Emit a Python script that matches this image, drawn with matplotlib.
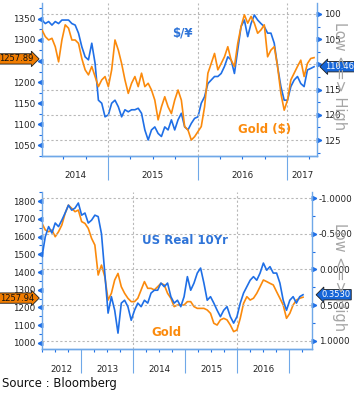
import numpy as np
import pandas as pd
import matplotlib
matplotlib.use('Agg')
import matplotlib.pyplot as plt
import matplotlib.dates as mdates
from matplotlib.ticker import FixedLocator, MultipleLocator

# ---- top panel: Gold ($) vs USDJPY (inverted), Apr 2014 - Apr 2017 ----
top_dates = pd.date_range('2014-04-06', '2017-04-20', periods=83)
gold_top = [1324, 1308, 1300, 1304, 1284, 1248, 1300, 1336, 1328, 1300,
            1300, 1292, 1256, 1229, 1217, 1237, 1213, 1189, 1205, 1213,
            1189, 1229, 1300, 1276, 1244, 1205, 1173, 1197, 1213, 1189,
            1221, 1189, 1197, 1181, 1157, 1110, 1141, 1165, 1141, 1125,
            1157, 1181, 1157, 1094, 1086, 1062, 1070, 1082, 1094, 1141,
            1221, 1244, 1268, 1229, 1244, 1260, 1284, 1252, 1237, 1292,
            1332, 1360, 1340, 1356, 1340, 1316, 1324, 1336, 1260, 1276,
            1284, 1237, 1173, 1133, 1157, 1205, 1221, 1237, 1252, 1213,
            1244, 1256, 1258]
usdjpy = [101.2, 101.9, 101.5, 102.2, 101.5, 101.9, 101.2, 101.2, 101.2, 101.9,
          102.2, 103.8, 106.5, 108.5, 109.1, 105.8, 109.8, 117.1, 117.7, 120.4,
          120.0, 117.7, 117.1, 118.4, 120.4, 119.0, 119.4, 119.0, 119.0, 118.7,
          119.7, 123.0, 125.0, 123.0, 122.4, 123.7, 124.3, 122.4, 123.0, 121.0,
          123.0, 121.0, 119.7, 122.4, 123.0, 121.7, 120.7, 120.4, 117.7, 116.4,
          113.8, 113.1, 112.4, 112.4, 111.8, 110.4, 108.5, 109.1, 111.8, 107.1,
          102.5, 101.2, 104.5, 101.9, 100.2, 101.2, 101.9, 102.5, 103.8, 103.8,
          105.8, 110.4, 114.4, 117.1, 117.1, 114.4, 113.1, 112.4, 113.8, 114.4,
          111.1, 110.8, 110.46]

# ---- bottom panel: Gold vs US Real 10Yr (inverted), Apr 2012 - Apr 2017 ----
bot_dates = pd.date_range('2012-04-01', '2017-04-08', periods=80)
gold_bot = [1674, 1637, 1627, 1637, 1599, 1627, 1665, 1731, 1777, 1759,
            1740, 1749, 1684, 1674, 1646, 1590, 1552, 1383, 1439, 1374,
            1242, 1280, 1355, 1392, 1317, 1280, 1252, 1233, 1233, 1252,
            1299, 1346, 1308, 1308, 1299, 1317, 1336, 1327, 1280, 1252,
            1205, 1214, 1214, 1214, 1233, 1233, 1205, 1195, 1195, 1195,
            1186, 1167, 1111, 1101, 1130, 1139, 1130, 1101, 1064, 1073,
            1139, 1223, 1261, 1242, 1252, 1280, 1317, 1355, 1346, 1336,
            1327, 1289, 1252, 1214, 1139, 1167, 1214, 1242, 1252, 1257.94]
real10 = [-0.18, -0.46, -0.60, -0.51, -0.65, -0.60, -0.69, -0.79, -0.90, -0.83,
          -0.86, -0.93, -0.76, -0.79, -0.65, -0.69, -0.76, -0.74, -0.50, 0.05,
          0.61, 0.38, 0.57, 0.89, 0.47, 0.43, 0.52, 0.71, 0.57, 0.47,
          0.52, 0.43, 0.47, 0.33, 0.29, 0.29, 0.19, 0.24, 0.19, 0.38,
          0.47, 0.43, 0.52, 0.38, 0.10, 0.29, 0.19, 0.05, -0.02, 0.19,
          0.43, 0.38, 0.47, 0.57, 0.66, 0.57, 0.52, 0.66, 0.75, 0.66,
          0.47, 0.33, 0.24, 0.15, 0.10, 0.15, 0.05, -0.09, 0.01, -0.04,
          0.05, 0.05, 0.19, 0.43, 0.57, 0.43, 0.38, 0.47, 0.38, 0.353]

BLUE = '#1f6fe6'
ORANGE = '#fb8a0c'
SPINE = '#6fa8e8'
GRID = '#b8b8b8'

plt.rcParams['font.family'] = ['DejaVu Sans']
fig = plt.figure(figsize=(3.54, 3.95), dpi=100)
W, H = 354.0, 395.0


def px_axes(l, t, r, b):
    return fig.add_axes([l / W, 1 - b / H, (r - l) / W, (b - t) / H])


def style_pair(ax, axr, xlim, years, grid_years):
    ax.set_xlim(xlim)
    for a in (ax, axr):
        a.spines['top'].set_visible(False)
        for s in ('left', 'right', 'bottom'):
            a.spines[s].set_color(SPINE)
            a.spines[s].set_linewidth(1.0)
    axr.spines['left'].set_visible(False)
    ax.spines['right'].set_visible(False)
    # x axis: year separators + quarterly minor ticks
    seps = [pd.Timestamp(f'{y}-01-01') for y in years[1:]]
    seps = [d for d in seps if xlim[0] < d < xlim[1]]
    ax.xaxis.set_major_locator(FixedLocator(mdates.date2num(seps)))
    ax.xaxis.set_minor_locator(mdates.MonthLocator(bymonth=[4, 7, 10]))
    ax.tick_params(axis='x', which='major', length=17, width=0.8,
                   color=SPINE, labelbottom=False)
    ax.tick_params(axis='x', which='minor', length=2.5, width=0.8,
                   color=BLUE)
    for d in grid_years:
        ax.axvline(pd.Timestamp(f'{d}-01-01'), color=GRID, lw=0.8,
                   ls=(0, (2, 2)), zorder=0)
    lo, hi = mdates.date2num(xlim[0]), mdates.date2num(xlim[1])
    for y in years:
        a = max(lo, mdates.date2num(pd.Timestamp(f'{y}-01-01')))
        b = min(hi, mdates.date2num(pd.Timestamp(f'{y + 1}-01-01')))
        ax.text((a + b) / 2, -0.128, str(y), transform=ax.get_xaxis_transform(),
                ha='center', va='center', fontsize=6.3, color='#222222')


def y_ticks(ax, ticks, minor, side, fmt, hide=None):
    ax.set_yticks(ticks)
    ax.set_yticklabels(['' if t == hide else fmt.format(t) for t in ticks])
    ax.yaxis.set_minor_locator(MultipleLocator(minor))
    ax.tick_params(axis='y', which='major', length=0, pad=5, labelsize=6.3,
                   labelcolor='#222222')
    ax.tick_params(axis='y', which='minor', length=2.5, width=0.8,
                   color=BLUE, direction='out')
    mk = '<' if side == 'left' else '>'
    xoff = -0.008 if side == 'left' else 1.008
    ax.plot([xoff] * len(ticks), ticks, ls='none', marker=mk, ms=3.2,
            color=BLUE, transform=ax.get_yaxis_transform(), clip_on=False)


def value_box(ax, value, text, side, fc, tc, xpos):
    style = 'rarrow,pad=0.08' if side == 'left' else 'larrow,pad=0.08'
    ax.text(xpos, value, text, transform=ax.get_yaxis_transform(),
            ha='right' if side == 'left' else 'left', va='center',
            fontsize=6, color=tc, zorder=10,
            bbox=dict(boxstyle=style, fc=fc, ec='#202020', lw=0.6))


# ==== top panel ====
ax1 = px_axes(42, 3, 317, 156)
ax1r = ax1.twinx()
ax1.plot(top_dates, gold_top, color=ORANGE, lw=1.2, zorder=3)
ax1r.plot(top_dates, usdjpy, color=BLUE, lw=1.2, zorder=2)
ax1.set_zorder(ax1r.get_zorder() + 1)
ax1.patch.set_visible(False)
ax1.set_ylim(1024, 1388)
ax1r.set_ylim(128.17, 97.82)
for v in [100, 110, 115, 120, 125]:
    ax1r.axhline(v, color=GRID, lw=0.8, ls=(0, (2, 2)), zorder=0)
style_pair(ax1, ax1r, (pd.Timestamp('2014-04-06'), pd.Timestamp('2017-05-02')),
           [2014, 2015, 2016, 2017], [2015, 2016, 2017])
y_ticks(ax1, [1050, 1100, 1150, 1200, 1250, 1300, 1350], 25, 'left', '{:d}',
        hide=1250)
y_ticks(ax1r, [100, 105, 110, 115, 120, 125], 2.5, 'right', '{:d}', hide=110)
value_box(ax1, 1255, '1257.89', 'left', '#f07c00', '#111111', -0.03)
value_box(ax1r, 110.46, '110.46', 'right', '#1565d8', 'white', 1.03)
fig.text(182 / W, 1 - 33 / H, '$/¥', color='#2f74d8', fontsize=8.5,
         fontweight='bold', ha='center', va='center')
fig.text(265 / W, 1 - 130 / H, 'Gold ($)', color=ORANGE, fontsize=8.5,
         fontweight='bold', ha='center', va='center')

# ==== bottom panel ====
ax2 = px_axes(42, 192, 312, 349)
ax2r = ax2.twinx()
ax2.plot(bot_dates, gold_bot, color=ORANGE, lw=1.2, zorder=2)
ax2r.plot(bot_dates, real10, color=BLUE, lw=1.2, zorder=3)
ax2.set_ylim(966, 1851)
ax2r.set_ylim(1.112, -1.084)
for v in [-1.0, -0.5, 0.0, 0.5, 1.0]:
    ax2r.axhline(v, color=GRID, lw=0.8, ls=(0, (2, 2)), zorder=0)
style_pair(ax2, ax2r, (pd.Timestamp('2012-04-01'), pd.Timestamp('2017-06-10')),
           [2012, 2013, 2014, 2015, 2016, 2017], [2014, 2016])
ax2.texts[-1].remove()  # 2017 has no label in the lower panel
y_ticks(ax2, [1000, 1100, 1200, 1300, 1400, 1500, 1600, 1700, 1800], 50,
        'left', '{:d}')
y_ticks(ax2r, [-1.0, -0.5, 0.0, 0.5, 1.0], 0.25, 'right', '{:.4f}')
value_box(ax2, 1253, '1257.94', 'left', '#f07c00', '#111111', -0.03)
value_box(ax2r, 0.353, '0.3530', 'right', '#1565d8', 'white', 1.035)
fig.text(185 / W, 1 - 241 / H, 'US Real 10Yr', color='#2f74d8', fontsize=8.5,
         fontweight='bold', ha='center', va='center')
fig.text(166 / W, 1 - 333 / H, 'Gold', color=ORANGE, fontsize=8.5,
         fontweight='bold', ha='center', va='center')

# ---- right side captions and source ----
for yc in (76, 277):
    fig.text(340 / W, 1 - yc / H, 'Low <=> High', rotation=-90, color='#a6a6a6',
             fontsize=10.5, ha='center', va='center', zorder=0)
fig.text(2 / W, 1 - 384 / H, 'Source : Bloomberg', fontsize=8.4,
         ha='left', va='center', color='#111111')

fig.savefig('out.png', dpi=100)
